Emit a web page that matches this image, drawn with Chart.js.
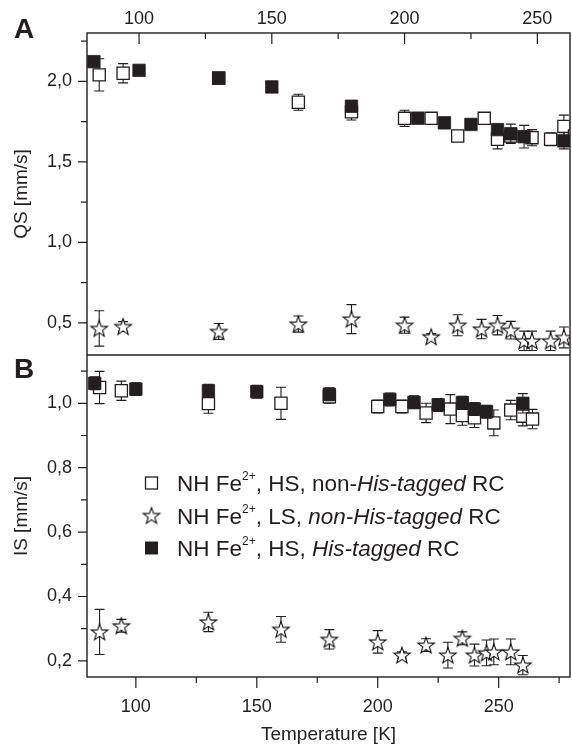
<!DOCTYPE html>
<html><head><meta charset="utf-8">
<script src="https://cdn.jsdelivr.net/npm/chart.js@4.4.1/dist/chart.umd.min.js"></script>
<style>html,body{margin:0;padding:0;background:#fff;}canvas{display:block;}</style>
</head><body>
<canvas id="c" width="572" height="748"></canvas>
<script>
// ---------- data ----------
// open squares: NH Fe2+, HS, non-His-tagged RC
const tempOpenSq  = [85, 94, 130, 160, 180, 200, 210, 220, 230, 235, 240, 248, 255, 260, 264];
const qsOpenSq    = [2.04, 2.05, 2.02, 1.87, 1.81, 1.77, 1.77, 1.66, 1.77, 1.64, 1.66, 1.65, 1.64, 1.72, 1.66];
const qsErrOpenSq = [0.10, 0.06, 0.02, 0.05, 0.05, 0.05, 0.03, 0.02, 0.02, 0.06, 0.04, 0.05, 0.04, 0.07, 0.04];
const isOpenSq    = [1.049, 1.039, 0.999, 1.00, 1.02, 0.990, 0.990, 0.970, 0.982, 0.962, 0.955, 0.939, 0.979, 0.960, 0.951];
const isErrOpenSq = [0.05, 0.03, 0.03, 0.05, 0.02, 0.02, 0.02, 0.03, 0.045, 0.03, 0.03, 0.04, 0.03, 0.03, 0.03];
// stars: NH Fe2+, LS, non-His-tagged RC
const tempStar  = [85, 94, 130, 160, 180, 200, 210, 220, 229, 235, 240, 245, 248, 255, 260];
const qsStar    = [0.465, 0.477, 0.446, 0.492, 0.523, 0.485, 0.413, 0.485, 0.461, 0.485, 0.454, 0.388, 0.388, 0.388, 0.409];
const qsErrStar = [0.11, 0.03, 0.05, 0.05, 0.09, 0.05, 0.02, 0.065, 0.06, 0.06, 0.055, 0.06, 0.06, 0.06, 0.065];
const isStar    = [0.290, 0.309, 0.321, 0.298, 0.267, 0.259, 0.218, 0.249, 0.218, 0.270, 0.218, 0.225, 0.228, 0.228, 0.187];
const isErrStar = [0.07, 0.02, 0.03, 0.04, 0.03, 0.035, 0.01, 0.02, 0.04, 0.02, 0.034, 0.04, 0.04, 0.04, 0.03];
// filled squares: NH Fe2+, HS, His-tagged RC
const tempFilledSq  = [83, 100, 130, 150, 180, 205, 215, 225, 235, 240, 245, 260];
const qsFilledSq    = [2.122, 2.068, 2.019, 1.965, 1.845, 1.771, 1.742, 1.732, 1.700, 1.674, 1.656, 1.630];
const qsErrFilledSq = [0.02, 0.02, 0.02, 0.02, 0.02, 0.02, 0.02, 0.02, 0.02, 0.06, 0.07, 0.05];
const isFilledSq    = [1.062, 1.044, 1.039, 1.036, 1.028, 1.012, 1.003, 0.995, 1.002, 0.982, 0.974, 1.000];
const isErrFilledSq = [0.02, 0.02, 0.02, 0.02, 0.02, 0.02, 0.02, 0.02, 0.02, 0.02, 0.02, 0.03];
// ticks (major ones get labels)
const xTicks  = [100, 125, 150, 175, 200, 225, 250, 275];
const yATicks = [0.5, 0.75, 1.0, 1.25, 1.5, 1.75, 2.0, 2.25];
const yBTicks = [0.2, 0.3, 0.4, 0.5, 0.6, 0.7, 0.8, 0.9, 1.0, 1.1];
// texts
const legendRows = [
  ['NH Fe', '2+', ', HS, non-', 'His-tagged', ' RC'],
  ['NH Fe', '2+', ', LS, ', 'non-His-tagged', ' RC'],
  ['NH Fe', '2+', ', HS, ', 'His-tagged', ' RC']
];
const panelLabels = ['A', 'B'];
const xTitle = 'Temperature [K]';
const yTitleA = 'QS [mm/s]';
const yTitleB = 'IS [mm/s]';

// ---------- styling ----------
const INK = '#231f20';
const FONT = "'Liberation Sans', Arial, Helvetica, sans-serif";

function makeStar() {
  const c = document.createElement('canvas');
  c.width = 22; c.height = 22;
  const g = c.getContext('2d');
  const R = 8.7, r = 3.5, cx = 11, cy = 11.8;
  g.beginPath();
  for (let i = 0; i < 10; i++) {
    const rad = i % 2 === 0 ? R : r;
    const a = -Math.PI / 2 + i * Math.PI / 5;
    const px = cx + rad * Math.cos(a), py = cy + rad * Math.sin(a);
    if (i === 0) g.moveTo(px, py); else g.lineTo(px, py);
  }
  g.closePath();
  g.fillStyle = '#fff'; g.fill();
  g.strokeStyle = '#000'; g.lineWidth = 1.05; g.lineJoin = 'miter'; g.stroke();
  return c;
}
const starImg = makeStar();

const pts = (xs, ys) => xs.map((x, i) => ({x: x, y: ys[i]}));

const openStyle = {pointStyle: 'rect', pointRadius: 8.6, pointBackgroundColor: '#fff', pointBorderColor: INK, pointBorderWidth: 1.3, showLine: false};
const filledStyle = {pointStyle: 'rect', pointRadius: 8.8, pointBackgroundColor: INK, pointBorderColor: INK, pointBorderWidth: 0.8, showLine: false};
const starStyle = {pointStyle: starImg, pointRadius: 9, showLine: false};

const datasets = [
  Object.assign({label: 'filledA', data: pts(tempFilledSq, qsFilledSq), errors: qsErrFilledSq, xAxisID: 'xTop', yAxisID: 'yA'}, filledStyle),
  Object.assign({label: 'filledB', data: pts(tempFilledSq, isFilledSq), errors: isErrFilledSq, xAxisID: 'xBottom', yAxisID: 'yB'}, filledStyle),
  Object.assign({label: 'starA', data: pts(tempStar, qsStar), errors: qsErrStar, xAxisID: 'xTop', yAxisID: 'yA'}, starStyle),
  Object.assign({label: 'starB', data: pts(tempStar, isStar), errors: isErrStar, xAxisID: 'xBottom', yAxisID: 'yB'}, starStyle),
  Object.assign({label: 'openA', data: pts(tempOpenSq, qsOpenSq), errors: qsErrOpenSq, xAxisID: 'xTop', yAxisID: 'yA'}, openStyle),
  Object.assign({label: 'openB', data: pts(tempOpenSq, isOpenSq), errors: isErrOpenSq, xAxisID: 'xBottom', yAxisID: 'yB'}, openStyle)
];

const isMajorX = v => Math.abs(v % 50) < 1e-6;
const isMajorA = v => Math.round(v * 4) % 2 === 0;
const isMajorB = v => Math.round(v * 10) % 2 === 0;
const fmtComma = v => v.toFixed(1).replace('.', ',');
const tickFont = {family: FONT, size: 18};
const setTicks = list => sc => { sc.ticks = list.filter(v => v >= sc.min - 1e-9 && v <= sc.max + 1e-9).map(v => ({value: v})); };
const fitX = h => sc => { sc.height = h; sc.paddingLeft = 0; sc.paddingRight = 0; };
const fitY = w => sc => { sc.width = w; sc.paddingTop = 0; sc.paddingBottom = 0; };

const errorBars = {
  id: 'errorBars',
  beforeDatasetDraw(chart, args) {
    const ds = chart.data.datasets[args.index];
    if (!ds.errors) return;
    const meta = args.meta;
    const ys = chart.scales[meta.yAxisID];
    const a = chart.chartArea;
    const ctx = chart.ctx;
    ctx.save();
    ctx.beginPath(); ctx.rect(a.left, a.top, a.right - a.left, a.bottom - a.top); ctx.clip();
    ctx.strokeStyle = INK; ctx.lineWidth = 1.1;
    meta.data.forEach((el, i) => {
      const v = ds.data[i].y, e = ds.errors[i];
      const x = el.x;
      const y1 = ys.getPixelForValue(v + e), y2 = ys.getPixelForValue(v - e);
      ctx.beginPath();
      ctx.moveTo(x, y1); ctx.lineTo(x, y2);
      ctx.moveTo(x - 5, y1); ctx.lineTo(x + 5, y1);
      ctx.moveTo(x - 5, y2); ctx.lineTo(x + 5, y2);
      ctx.stroke();
    });
    ctx.restore();
  }
};

function drawRich(ctx, segs, x, y, size) {
  let cx = x;
  const put = (t, font, dy) => { ctx.font = font; ctx.fillText(t, cx, y + dy); cx += ctx.measureText(t).width; };
  put(segs[0], `${size}px ${FONT}`, 0);
  put(segs[1], `${Math.round(size * 0.55)}px ${FONT}`, -size * 0.5);
  put(segs[2], `${size}px ${FONT}`, 0);
  put(segs[3], `italic ${size}px ${FONT}`, 0);
  put(segs[4], `${size}px ${FONT}`, 0);
}

const frame = {
  id: 'frame',
  afterDraw(chart) {
    const ctx = chart.ctx, a = chart.chartArea;
    const s = chart.scales;
    ctx.save();
    ctx.strokeStyle = INK; ctx.lineWidth = 1.4;
    ctx.strokeRect(a.left, a.top, a.right - a.left, a.bottom - a.top);
    ctx.beginPath(); ctx.moveTo(a.left, s.yA.bottom); ctx.lineTo(a.right, s.yA.bottom); ctx.stroke();
    ctx.lineWidth = 1.2;
    ctx.beginPath();
    s.xTop.ticks.forEach(t => { const p = s.xTop.getPixelForValue(t.value); const L = isMajorX(t.value) ? 11 : 6; ctx.moveTo(p, a.top); ctx.lineTo(p, a.top + L); });
    s.xBottom.ticks.forEach(t => { const p = s.xBottom.getPixelForValue(t.value); const L = isMajorX(t.value) ? 11 : 6; ctx.moveTo(p, a.bottom); ctx.lineTo(p, a.bottom + L); });
    s.yA.ticks.forEach(t => { const p = s.yA.getPixelForValue(t.value); const L = isMajorA(t.value) ? 9 : 6; ctx.moveTo(a.left - L, p); ctx.lineTo(a.left, p); });
    s.yB.ticks.forEach(t => { const p = s.yB.getPixelForValue(t.value); const L = isMajorB(t.value) ? 9 : 6; ctx.moveTo(a.left - L, p); ctx.lineTo(a.left, p); });
    ctx.stroke();
    // panel letters
    ctx.fillStyle = INK;
    ctx.font = `bold 28px ${FONT}`;
    ctx.textBaseline = 'alphabetic'; ctx.textAlign = 'left';
    ctx.fillText(panelLabels[0], 14, 37.5);
    ctx.fillText(panelLabels[1], 14, 378);
    // legend
    const rowsY = [483, 516, 548];
    const iconX = 151.5, textX = 177, size = 22.5;
    rowsY.forEach((yc, k) => {
      if (k === 0) { ctx.fillStyle = '#fff'; ctx.fillRect(iconX - 6, yc - 6, 12, 12); ctx.strokeStyle = INK; ctx.lineWidth = 1.3; ctx.strokeRect(iconX - 6, yc - 6, 12, 12); }
      if (k === 1) { ctx.drawImage(starImg, iconX - 11, yc - 11.5); }
      if (k === 2) { ctx.fillStyle = INK; ctx.fillRect(iconX - 6.5, yc - 6.5, 13, 13); }
      ctx.fillStyle = INK;
      ctx.textBaseline = 'alphabetic';
      drawRich(ctx, legendRows[k], textX, yc + 8, size);
    });
    ctx.restore();
  }
};

new Chart(document.getElementById('c'), {
  type: 'scatter',
  data: {datasets: datasets},
  plugins: [errorBars, frame],
  options: {
    responsive: false, animation: false, devicePixelRatio: 1,
    layout: {autoPadding: false, padding: {left: 0, right: 2, top: 0, bottom: 0}},
    plugins: {legend: {display: false}, tooltip: {enabled: false}},
    scales: {
      xTop: {
        type: 'linear', position: 'top', min: 80.4, max: 262.3,
        afterBuildTicks: setTicks(xTicks),
        ticks: {autoSkip: false, maxRotation: 0, padding: 3, color: INK, font: tickFont,
          callback: v => isMajorX(v) ? String(v) : ''},
        grid: {display: false, drawTicks: false}, border: {display: false},
        afterFit: fitX(33)
      },
      xBottom: {
        type: 'linear', position: 'bottom', min: 79.8, max: 279.5,
        afterBuildTicks: setTicks(xTicks),
        ticks: {autoSkip: false, maxRotation: 0, padding: 8, color: INK, font: tickFont,
          callback: v => isMajorX(v) ? String(v) : ''},
        grid: {display: false, drawTicks: true, tickLength: 11}, border: {display: false},
        title: {display: true, text: xTitle, color: INK, font: {family: FONT, size: 19}, padding: {top: 4, bottom: 2}},
        afterFit: fitX(71)
      },
      yB: {
        type: 'linear', position: 'left', stack: 'panels', stackWeight: 1, min: 0.15, max: 1.15,
        afterBuildTicks: setTicks(yBTicks),
        ticks: {autoSkip: false, padding: 6, color: INK, font: tickFont,
          callback: v => isMajorB(v) ? fmtComma(v) : ''},
        grid: {display: false, drawTicks: true, tickLength: 9}, border: {display: false},
        title: {display: true, text: yTitleB, color: INK, font: {family: FONT, size: 19}, padding: {top: 10, bottom: 0}},
        afterFit: fitY(87)
      },
      yA: {
        type: 'linear', position: 'left', stack: 'panels', stackWeight: 1, min: 0.3, max: 2.3,
        afterBuildTicks: setTicks(yATicks),
        ticks: {autoSkip: false, padding: 6, color: INK, font: tickFont,
          callback: v => isMajorA(v) ? fmtComma(v) : ''},
        grid: {display: false, drawTicks: true, tickLength: 9}, border: {display: false},
        title: {display: true, text: yTitleA, color: INK, font: {family: FONT, size: 19}, padding: {top: 10, bottom: 0}},
        afterFit: fitY(87)
      }
    }
  }
});
</script>
</body></html>
